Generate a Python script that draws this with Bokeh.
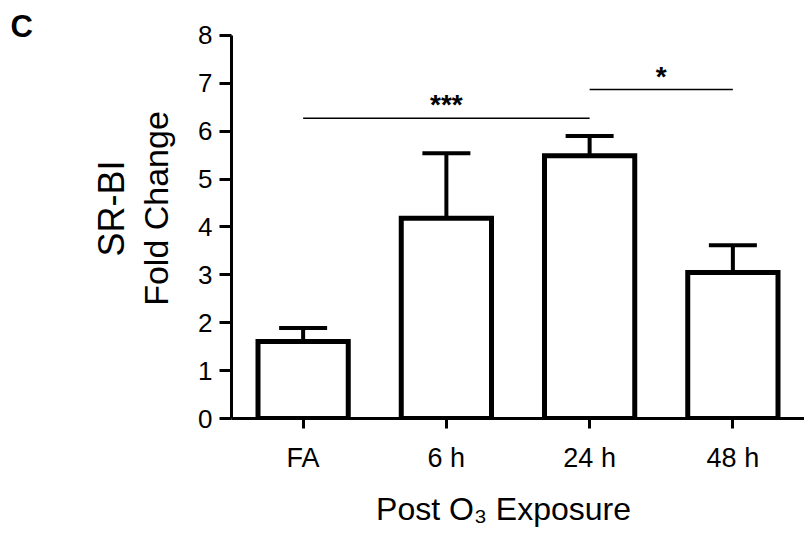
import math
from bokeh.plotting import figure
from bokeh.models import (FactorRange, Range1d, Whisker, TeeHead, ColumnDataSource,
                          Label, FixedTicker)
from bokeh.embed import file_html
from bokeh.resources import INLINE

# ---- data ----
categories = ["FA", "6 h", "24 h", "48 h"]
fold_change = [1.61, 4.18, 5.49, 3.05]
sem = [0.28, 1.36, 0.41, 0.57]
y_ticks = [0, 1, 2, 3, 4, 5, 6, 7, 8]
sig_start = ["FA", "24 h"]
sig_end = ["24 h", "48 h"]
sig_height = [6.27, 6.87]
sig_text = ["***", "*"]
x_title = "Post O\u2083 Exposure"
y_title_lines = ["SR-BI", "Fold Change"]
panel_letter = "C"

FONT = "Liberation Sans"

src = ColumnDataSource(dict(
    cat=categories,
    val=fold_change,
    upper=[v + e for v, e in zip(fold_change, sem)],
))

p = figure(width=804, height=534,
           x_range=FactorRange(*categories),
           y_range=Range1d(0, 8.73),
           output_backend="svg", toolbar_location=None,
           min_border_left=231, min_border_right=0,
           min_border_top=0, min_border_bottom=116)
p.xgrid.visible = False
p.ygrid.visible = False
p.outline_line_color = None
p.background_fill_color = "white"
p.border_fill_color = "white"

p.vbar(x="cat", top="val", bottom=0, width=0.63, source=src,
       fill_color="white", line_color="black", line_width=5, line_join="miter")

w = Whisker(base="cat", lower="val", upper="upper", source=src,
            line_width=4, line_color="black",
            upper_head=TeeHead(size=48, line_width=4, line_color="black"),
            lower_head=None)
p.add_layout(w)

p.segment(x0=sig_start, y0=sig_height, x1=sig_end, y1=sig_height,
          line_color="black", line_width=1.5)
for s, e, h, t in zip(sig_start, sig_end, sig_height, sig_text):
    mid = (categories.index(s) + categories.index(e)) / 2 + 0.5
    p.add_layout(Label(x=mid, y=h + 0.28, text=t, text_font=FONT,
                       text_font_size="28px", text_font_style="bold",
                       text_align="center", text_baseline="alphabetic",
                       text_color="black"))

# axes
ya = p.yaxis[0]
ya.ticker = FixedTicker(ticks=y_ticks)
ya.bounds = (0, 8)
ya.axis_line_width = 3
ya.axis_line_color = "black"
ya.major_tick_line_width = 3
ya.major_tick_line_color = "black"
ya.major_tick_out = 12
ya.major_tick_in = 0
ya.minor_tick_line_color = None
ya.major_label_text_font = FONT
ya.major_label_text_font_size = "26px"
ya.major_label_text_color = "black"
ya.major_label_standoff = 7

xa = p.xaxis[0]
xa.axis_line_width = 3
xa.axis_line_color = "black"
xa.major_tick_line_width = 3
xa.major_tick_line_color = "black"
xa.major_tick_out = 10
xa.major_tick_in = 0
xa.major_label_text_font = FONT
xa.major_label_text_font_size = "27px"
xa.major_label_text_color = "black"
xa.major_label_standoff = 14

# titles (placed in side panels so they are not clipped to the frame)
p.add_layout(Label(x=1.899, y=-1.90, text=x_title, text_font=FONT,
                   text_font_size="32px", text_align="center",
                   text_baseline="alphabetic", text_color="black"), "below")
for xpos, line, fs in zip([-0.838, -0.524], y_title_lines, ["36px", "34px"]):
    p.add_layout(Label(x=xpos, y=4.386, text=line, text_font=FONT,
                       text_font_size=fs, text_align="center",
                       text_baseline="alphabetic", angle=math.pi / 2,
                       text_color="black"), "left")
p.add_layout(Label(x=-1.543, y=8.19, text=panel_letter, text_font=FONT,
                   text_font_size="31px", text_font_style="bold",
                   text_align="left", text_baseline="alphabetic",
                   text_color="black"), "left")

open("out.html", "w").write(file_html(p, INLINE))
